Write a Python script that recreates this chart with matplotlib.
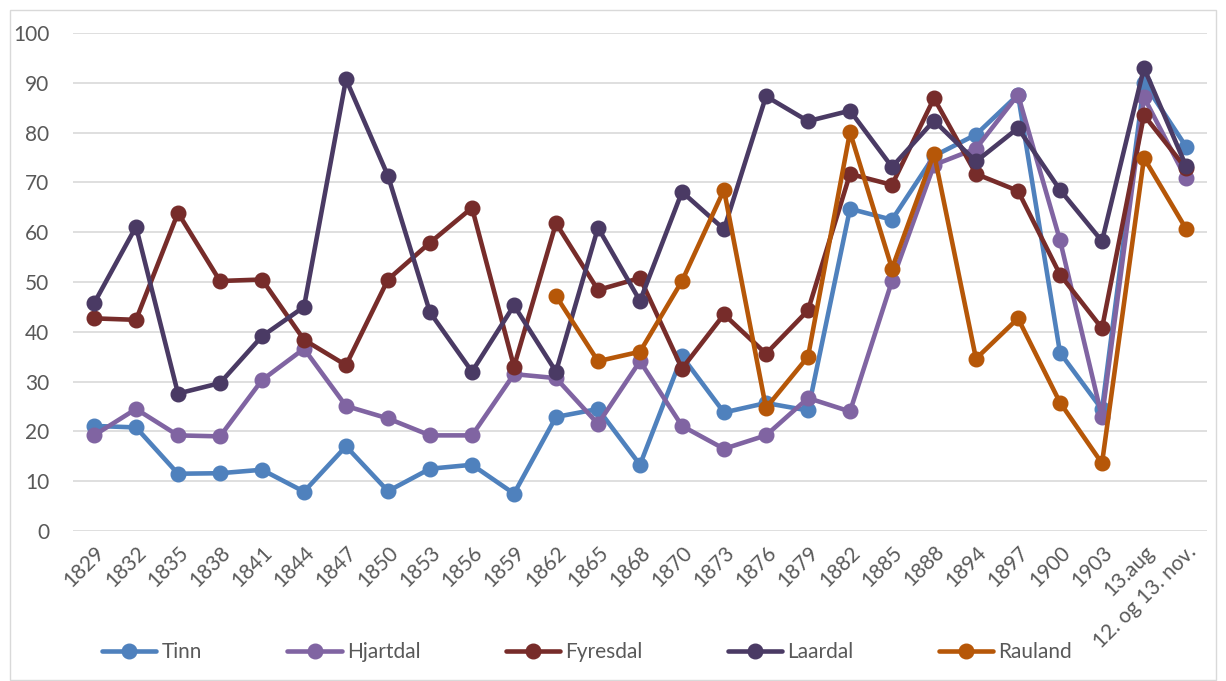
import numpy as np
import matplotlib.pyplot as plt
from matplotlib.patches import Rectangle

# Categories (years / dates)
years = ["1829", "1832", "1835", "1838", "1841", "1844", "1847", "1850", "1853",
         "1856", "1859", "1862", "1865", "1868", "1870", "1873", "1876", "1879",
         "1882", "1885", "1888", "1894", "1897", "1900", "1903", "13.aug",
         "12. og 13. nov."]

tinn = [21.1, 20.8, 11.5, 11.6, 12.3, 7.9, 17.0, 8.0, 12.5, 13.3, 7.5, 22.9,
        24.5, 13.3, 35.1, 23.8, 25.7, 24.2, 64.7, 62.5, 75.3, 79.6, 87.6,
        35.8, 24.4, 90.0, 77.2]
hjartdal = [19.2, 24.5, 19.2, 19.0, 30.3, 36.6, 25.1, 22.6, 19.2, 19.2, 31.5,
            30.7, 21.5, 34.1, 21.1, 16.5, 19.2, 26.7, 24.0, 50.2, 73.5, 76.8,
            87.6, 58.4, 22.8, 87.1, 70.8]
fyresdal = [42.7, 42.4, 63.9, 50.2, 50.5, 38.4, 33.3, 50.5, 57.9, 64.9, 33.0,
            61.8, 48.4, 50.8, 32.6, 43.5, 35.6, 44.3, 71.7, 69.5, 86.9, 71.7,
            68.3, 51.5, 40.7, 83.5, 72.8]
laardal = [45.7, 61.1, 27.6, 29.7, 39.1, 45.0, 90.7, 71.3, 43.9, 32.0, 45.3,
           32.0, 60.9, 46.2, 68.1, 60.6, 87.3, 82.3, 84.4, 73.1, 82.4, 74.2,
           80.9, 68.5, 58.2, 93.0, 73.3]
rauland = [np.nan] * 11 + [47.2, 34.1, 36.0, 50.2, 68.5, 24.7, 35.0, 80.1, 52.7,
                           75.8, 34.6, 42.7, 25.8, 13.6, 74.9, 60.7]

series = [("Tinn", tinn, "#4F81BD"),
          ("Hjartdal", hjartdal, "#8064A2"),
          ("Fyresdal", fyresdal, "#772C2A"),
          ("Laardal", laardal, "#4A3A64"),
          ("Rauland", rauland, "#B65708")]

plt.rcParams['font.family'] = ['Lato', 'DejaVu Sans']
text_col = "#595959"

fig = plt.figure(figsize=(12.26, 6.81), dpi=100)
ax = fig.add_axes([73 / 1226, 1 - 531 / 681, (1207 - 73) / 1226, (531 - 33) / 681])

x = np.arange(len(years))
for name, vals, col in series:
    ax.plot(x, vals, color=col, lw=3.3, marker="o", markersize=10.5,
            label=name, solid_capstyle="round")

ax.set_xlim(-0.5, len(years) - 0.5)
ax.set_ylim(0, 100)
ax.set_yticks(range(0, 101, 10))
ax.set_xticks(x)
ax.set_xticklabels(years, rotation=45, ha="right", rotation_mode="anchor")
ax.tick_params(axis="both", length=0, labelsize=15, colors=text_col)
ax.tick_params(axis="y", pad=17)
ax.tick_params(axis="x", pad=8)
ax.grid(axis="y", color="#D9D9D9", lw=1.2)
ax.set_axisbelow(True)
for s in ax.spines.values():
    s.set_visible(False)

fig.patches.append(Rectangle((10 / 1226, 0.002), 1 - 20 / 1226, 1 - 10 / 681 - 0.002,
                             transform=fig.transFigure, fill=False,
                             edgecolor="#D9D9D9", lw=1))

leg = fig.legend(loc="center", bbox_to_anchor=(0.479, 29 / 681),
                 ncol=5, frameon=False, fontsize=15, handlelength=2.6,
                 handletextpad=0.25, columnspacing=4.1, markerscale=1.0)
for t in leg.get_texts():
    t.set_color(text_col)

fig.savefig("out.png", dpi=100)
